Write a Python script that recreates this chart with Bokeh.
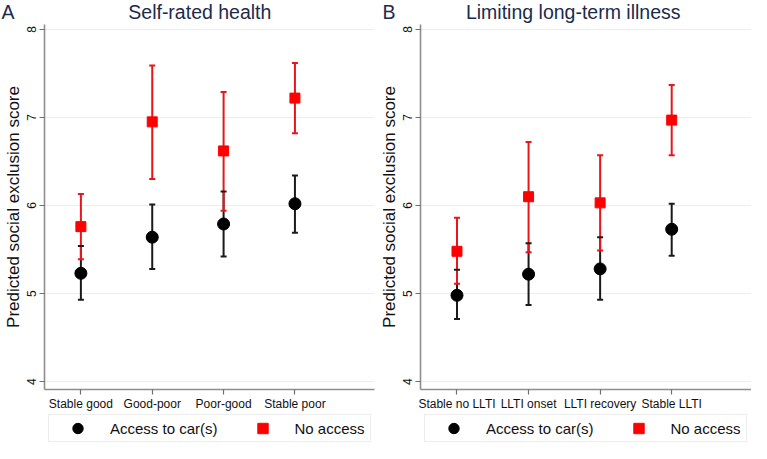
from bokeh.plotting import figure
from bokeh.layouts import row, column
from bokeh.models import Range1d, FixedTicker, Legend, LegendItem
from bokeh.embed import file_html
from bokeh.resources import INLINE

# ---------------- data ----------------
cats_a = ["Stable good", "Good-poor", "Poor-good", "Stable poor"]
car_a = [5.23, 5.64, 5.79, 6.02]
car_a_lo = [4.93, 5.28, 5.42, 5.69]
car_a_hi = [5.54, 6.01, 6.16, 6.34]
none_a = [5.76, 6.95, 6.62, 7.22]
none_a_lo = [5.39, 6.30, 5.94, 6.82]
none_a_hi = [6.13, 7.59, 7.29, 7.62]

cats_b = ["Stable no LLTI", "LLTI onset", "LLTI recovery", "Stable LLTI"]
car_b = [4.98, 5.22, 5.28, 5.73]
car_b_lo = [4.71, 4.87, 4.93, 5.43]
car_b_hi = [5.27, 5.57, 5.64, 6.02]
none_b = [5.48, 6.10, 6.03, 6.97]
none_b_lo = [5.11, 5.47, 5.49, 6.57]
none_b_hi = [5.86, 6.72, 6.57, 7.37]

y_ticks = [4, 5, 6, 7, 8]
series_labels = ["Access to car(s)", "No access"]

FONT = "Liberation Sans"
RED = "#ff0000"
RED_BAR = "#e8161b"
BLACK = "#000000"
BAR_BLACK = "#1a1a1a"
TITLE_COLOR = "#1c2b4b"
NB = "\u00a0"


def panel(letter, title, gap, cats, car, car_lo, car_hi, no, no_lo, no_hi,
          fwidth, left, right, title_offset):
    pos = list(range(1, len(cats) + 1))
    p = figure(frame_width=fwidth, frame_height=365, output_backend="svg",
               toolbar_location=None,
               x_range=Range1d(0.49, 5.115), y_range=Range1d(3.91, 8.056),
               min_border_left=left, min_border_right=right,
               min_border_top=22, min_border_bottom=24)
    p.outline_line_color = None
    p.background_fill_color = "white"
    p.border_fill_color = "white"

    p.title.text = letter + NB * gap + title
    p.title.align = "left"
    p.title.offset = title_offset
    p.title.standoff = 0
    p.title.vertical_align = "top"
    p.title.text_font = FONT
    p.title.text_font_size = "19.5px"
    p.title.text_font_style = "normal"
    p.title.text_color = TITLE_COLOR

    # axes
    p.xaxis.ticker = FixedTicker(ticks=pos)
    p.xaxis.major_label_overrides = {i: c for i, c in zip(pos, cats)}
    p.xaxis.minor_tick_line_color = None
    p.xaxis.major_tick_in = 0
    p.xaxis.major_tick_out = 5
    p.xaxis.major_label_standoff = 2
    p.xaxis.major_label_text_font = FONT
    p.xaxis.major_label_text_font_size = "12px"
    p.xaxis.major_label_text_color = "#111111"

    p.yaxis.ticker = FixedTicker(ticks=y_ticks)
    p.yaxis.minor_tick_line_color = None
    p.yaxis.major_tick_in = 0
    p.yaxis.major_tick_out = 5
    p.yaxis.major_label_orientation = "vertical"
    p.yaxis.major_label_standoff = 3
    p.yaxis.major_label_text_font = FONT
    p.yaxis.major_label_text_font_size = "12px"
    p.yaxis.major_label_text_color = "#111111"
    p.yaxis.axis_label = "Predicted social exclusion score"
    p.yaxis.axis_label_text_font = FONT
    p.yaxis.axis_label_text_font_size = "17px"
    p.yaxis.axis_label_text_font_style = "normal"
    p.yaxis.axis_label_text_color = "#111111"
    p.yaxis.axis_label_standoff = 2

    for ax in (p.xaxis, p.yaxis):
        ax.axis_line_color = "#8e8e8e"
        ax.axis_line_width = 1.6
        ax.major_tick_line_color = "#6e6e6e"
        ax.major_tick_line_width = 1.2

    p.xgrid.grid_line_color = None
    p.ygrid.grid_line_color = "#e6eef0"
    p.ygrid.grid_line_width = 1

    # error bars
    p.segment(pos, car_lo, pos, car_hi, line_color=BAR_BLACK, line_width=2)
    p.segment(pos, no_lo, pos, no_hi, line_color=RED_BAR, line_width=2)
    p.scatter(pos, car_lo, marker="dash", size=6, line_color=BAR_BLACK, line_width=2)
    p.scatter(pos, car_hi, marker="dash", size=6, line_color=BAR_BLACK, line_width=2)
    p.scatter(pos, no_lo, marker="dash", size=6, line_color=RED_BAR, line_width=2)
    p.scatter(pos, no_hi, marker="dash", size=6, line_color=RED_BAR, line_width=2)

    # markers
    p.scatter(pos, car, marker="circle", size=12, fill_color=BLACK, line_color=BLACK)
    p.scatter(pos, no, marker="square", size=10, fill_color=RED, line_color=RED)
    return p


def legend_fig(fwidth, box_left, car, no):
    # the key strip under each panel; its markers carry the panel's data,
    # which lies outside this strip's range, so only the legend keys show
    pos = list(range(1, len(car) + 1))
    q = figure(frame_width=fwidth, frame_height=30, output_backend="svg",
               toolbar_location=None, title=None,
               x_range=Range1d(0, 1), y_range=Range1d(0, 1),
               x_axis_location=None, y_axis_location=None,
               min_border=0)
    q.outline_line_color = None
    q.grid.grid_line_color = None
    r_car = q.scatter(pos, car, marker="circle", size=12, fill_color=BLACK,
                      line_color=BLACK)
    r_no = q.scatter(pos, no, marker="square", size=10, fill_color=RED,
                     line_color=RED)
    legend = Legend(items=[LegendItem(label=series_labels[0], renderers=[r_car]),
                           LegendItem(label=series_labels[1], renderers=[r_no])],
                    orientation="horizontal", location=(box_left, 1))
    legend.glyph_width = 57
    legend.glyph_height = 26
    legend.padding = 0
    legend.label_standoff = 4
    legend.label_width = 75
    legend.spacing = 16
    legend.margin = 0
    legend.label_text_font = FONT
    legend.label_text_font_size = "15px"
    legend.label_text_color = "#111111"
    legend.border_line_color = "#d9d9d9"
    legend.border_line_width = 1
    legend.background_fill_color = "white"
    q.add_layout(legend, "center")
    return q


pa = panel("A", "Self-rated health", 21, cats_a, car_a, car_a_lo, car_a_hi,
           none_a, none_a_lo, none_a_hi, fwidth=330, left=44, right=1,
           title_offset=-43)
pb = panel("B", "Limiting long-term illness", 13, cats_b, car_b, car_b_lo,
           car_b_hi, none_b, none_b_lo, none_b_hi, fwidth=331, left=45,
           right=0, title_offset=-38)
la = legend_fig(375, 48, car_a, none_a)
lb = legend_fig(376, 49, car_b, none_b)

layout = column(row(pa, pb, spacing=0), row(la, lb, spacing=0), spacing=0)
open("out.html", "w").write(file_html(layout, INLINE))
